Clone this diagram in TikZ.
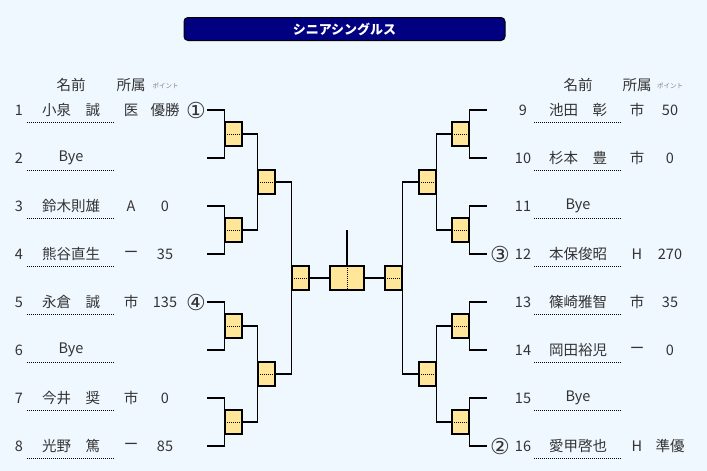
\documentclass[tikz,border=0pt]{standalone}
\usepackage{fontspec}
\setmainfont{Noto Sans CJK JP}
\newfontfamily\seedfont{DejaVu Sans}
\usetikzlibrary{positioning}

\definecolor{pagebg}{HTML}{F0F8FF}
\definecolor{titlebg}{HTML}{000080}
\definecolor{matchfill}{HTML}{FFE699}
\definecolor{txt}{HTML}{333333}

\tikzset{
    cell/.style={text=txt, font=\fontsize{14.5}{16}\selectfont, inner sep=0pt},
    seed/.style={text=txt, font=\seedfont\fontsize{22}{24}\selectfont, inner sep=0pt},
    small/.style={text=gray, font=\fontsize{6.5}{7}\selectfont, inner sep=0pt},
    namecell/.style={cell, minimum width=87pt, minimum height=25pt},
    dotline/.style={line width=0.9pt, dash pattern=on 1pt off 1pt},
    wire/.style={line width=1.2pt},
    match/.style={draw, line width=1.2pt, fill=matchfill, inner sep=0pt,
        minimum width=17pt, minimum height=24pt,
        path picture={\draw[dotline] (path picture bounding box.west) -- (path picture bounding box.east);}},
    finalbox/.style={match, minimum width=34pt,
        path picture={\draw[dotline] (path picture bounding box.north) -- (path picture bounding box.south);}},
    titlebox/.style={draw, line width=1pt, fill=titlebg, text=white, rounded corners=4pt,
        minimum width=321pt, minimum height=23pt, inner sep=0pt,
        font=\bfseries\fontsize{13}{14}\selectfont}
}

\begin{document}
\begin{tikzpicture}[x=1pt, y=-1pt]
    \fill[pagebg] (0, 0) rectangle (707, 471);
    \useasboundingbox (0, 0) rectangle (707, 471);

    \node[titlebox] (title) at (344.5, 29) {シニアシングルス};

    % headers
    \node[cell] (hname1) at (71, 85) {名前};
    \node[cell] (haff1) at (131, 85) {所属};
    \node[small] (hpt1) at (165.5, 86) {ポイント};
    \node[cell] (hname2) at (578, 85) {名前};
    \node[cell] (haff2) at (637, 85) {所属};
    \node[small] (hpt2) at (670, 86) {ポイント};

    % players, left half
    \foreach \i/\nm/\af/\pt in {1/小泉　誠/医/優勝, 2/Bye//, 3/鈴木則雄/A/0, 4/熊谷直生/ー/35,
        5/永倉　誠/市/135, 6/Bye//, 7/今井　奨/市/0, 8/光野　篤/ー/85} {
        \pgfmathsetmacro{\y}{110 + 48*(\i - 1)}
        \node[cell] (num\i) at (19, \y) {\i};
        \node[namecell] (name\i) at (71, \y) {\nm};
        \draw[dotline] (name\i.south west) -- (name\i.south east);
        \node[cell] (aff\i) at (131, \y) {\af};
        \node[cell] (pt\i) at (165, \y) {\pt};
        \coordinate (end\i) at (207, \y);
    }
    % players, right half
    \foreach \i/\nm/\af/\pt in {9/池田　彰/市/50, 10/杉本　豊/市/0, 11/Bye//, 12/本保俊昭/H/270,
        13/篠崎雅智/市/35, 14/岡田裕児/ー/0, 15/Bye//, 16/愛甲啓也/H/準優} {
        \pgfmathsetmacro{\y}{110 + 48*(\i - 9)}
        \node[cell] (num\i) at (523, \y) {\i};
        \node[namecell] (name\i) at (578, \y) {\nm};
        \draw[dotline] (name\i.south west) -- (name\i.south east);
        \node[cell] (aff\i) at (637, \y) {\af};
        \node[cell] (pt\i) at (670, \y) {\pt};
        \coordinate (end\i) at (487, \y);
    }

    % seeds
    \node[seed] (seed1) at (196, 110) {①};
    \node[seed] (seed4) at (196, 302) {④};
    \node[seed] (seed3) at (500, 254) {③};
    \node[seed] (seed2) at (500, 446) {②};

    % matches
    \node[match] (m1) at (233.5, 134) {};
    \node[match] (m2) at (233.5, 230) {};
    \node[match] (m3) at (233.5, 326) {};
    \node[match] (m4) at (233.5, 422) {};
    \node[match] (q1) at (266.5, 182) {};
    \node[match] (q2) at (266.5, 374) {};
    \node[match] (s1) at (300.5, 278) {};
    \node[finalbox] (fin) at (347, 278) {};
    \node[match] (s2) at (393.5, 278) {};
    \node[match] (q3) at (427.5, 182) {};
    \node[match] (q4) at (427.5, 374) {};
    \node[match] (m5) at (460.5, 134) {};
    \node[match] (m6) at (460.5, 230) {};
    \node[match] (m7) at (460.5, 326) {};
    \node[match] (m8) at (460.5, 422) {};
    \coordinate (champ) at (347, 230);

    % bracket lines
    \foreach \a/\b/\m in {1/2/m1, 3/4/m2, 5/6/m3, 7/8/m4}
        \draw[wire] (end\a) -| (\m.west) (end\b) -| (\m.west);
    \foreach \a/\b/\m in {9/10/m5, 11/12/m6, 13/14/m7, 15/16/m8}
        \draw[wire] (end\a) -| (\m.east) (end\b) -| (\m.east);
    \draw[wire] (m1.east) -| (q1.west) (m2.east) -| (q1.west);
    \draw[wire] (m3.east) -| (q2.west) (m4.east) -| (q2.west);
    \draw[wire] (q1.east) -| (s1.west) (q2.east) -| (s1.west);
    \draw[wire] (m5.west) -| (q3.east) (m6.west) -| (q3.east);
    \draw[wire] (m7.west) -| (q4.east) (m8.west) -| (q4.east);
    \draw[wire] (q3.west) -| (s2.east) (q4.west) -| (s2.east);
    \draw[wire] (s1.east) -- (fin.west) (s2.west) -- (fin.east);
    \draw[wire] (fin.north) -- (champ);
\end{tikzpicture}
\end{document}
